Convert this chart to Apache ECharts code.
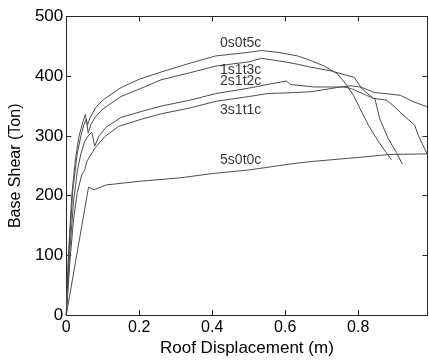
<!DOCTYPE html>
<html>
<head>
<meta charset="utf-8">
<script src="https://cdn.jsdelivr.net/npm/echarts@6/dist/echarts.min.js"></script>
<style>html,body{margin:0;padding:0;background:#fff}#c{width:429px;height:362px}</style>
</head>
<body>
<div id="c"></div>
<script>
// Roof displacement (m) / base shear (Ton) pairs for each model
const s0s0t5c = [[0,0],[0.005,90],[0.015,200],[0.025,260],[0.035,300],[0.045,322],[0.052,336],[0.058,318],[0.065,330],[0.08,347],[0.1,360],[0.15,381],[0.2,395],[0.26,407],[0.34,422],[0.41,434],[0.5,440],[0.535,443],[0.58,440],[0.634,434],[0.671,426],[0.707,417],[0.743,404],[0.766,387],[0.787,368],[0.805,346],[0.828,318],[0.855,291],[0.891,260]];
const s1s1t3c = [[0,0],[0.008,110],[0.018,210],[0.03,270],[0.04,300],[0.048,318],[0.055,328],[0.06,305],[0.068,320],[0.08,332],[0.1,345],[0.15,366],[0.206,380],[0.26,394],[0.34,406],[0.41,417],[0.5,424],[0.535,430],[0.6,424],[0.634,420],[0.671,415],[0.725,409],[0.789,398],[0.807,382],[0.843,373],[0.916,368],[0.952,357],[0.988,349]];
const s2s1t2c = [[0,0],[0.01,110],[0.02,190],[0.03,240],[0.04,270],[0.05,290],[0.06,300],[0.07,306],[0.078,283],[0.09,300],[0.11,315],[0.15,331],[0.206,341],[0.26,350],[0.34,360],[0.41,371],[0.5,380],[0.55,386],[0.603,392],[0.615,386],[0.68,382],[0.761,382],[0.782,379],[0.823,368],[0.846,362],[0.859,329],[0.882,296],[0.905,272],[0.921,253]];
const s3s1t1c = [[0,0],[0.01,90],[0.02,160],[0.03,205],[0.043,236],[0.05,242],[0.057,258],[0.079,280],[0.106,299],[0.143,316],[0.206,328],[0.26,337],[0.34,347],[0.41,358],[0.5,366],[0.553,371],[0.6,372],[0.671,374],[0.752,382],[0.78,384],[0.805,382],[0.841,363],[0.877,360],[0.896,351],[0.923,335],[0.955,318],[0.964,302],[0.977,285],[0.99,269]];
const s5s0t0c = [[0,0],[0.061,214],[0.076,210],[0.11,218],[0.2,224],[0.315,230],[0.4,237],[0.5,243],[0.614,253],[0.669,257],[0.8,264],[0.887,269],[0.99,270]];

const seriesNames = ['0s0t5c','1s1t3c','2s1t2c','3s1t1c','5s0t0c'];
const seriesData = [s0s0t5c, s1s1t3c, s2s1t2c, s3s1t1c, s5s0t0c];
// curve annotations (data coordinates)
const labelX = [0.478, 0.478, 0.478, 0.478, 0.478];
const labelY = [455, 410, 391, 343, 260];

const xTicks = [0, 0.2, 0.4, 0.6, 0.8];
const yTicks = [0, 100, 200, 300, 400, 500];

const FONT = 'Liberation Sans, Arial, sans-serif';
const axisColor = '#262626';
const lineColor = '#4d4d4d';

const chart = echarts.init(document.getElementById('c'), null, {renderer: 'canvas'});

function xAxisBase(pos, showLabel) {
  return {
    type: 'value', position: pos, min: 0, max: 0.99, interval: 0.2,
    axisLine: {show: true, onZero: false, lineStyle: {color: axisColor, width: 1}},
    axisTick: {show: true, inside: true, length: 5, lineStyle: {color: axisColor}},
    splitLine: {show: false},
    axisLabel: {
      show: showLabel, color: '#000', fontFamily: FONT, fontSize: 16, margin: 4,
      showMaxLabel: false,
      formatter: v => xTicks.some(t => Math.abs(t - v) < 1e-9) ? String(+v.toFixed(1)) : ''
    }
  };
}
function yAxisBase(pos, showLabel) {
  return {
    type: 'value', position: pos, min: 0, max: 500, interval: 100,
    axisLine: {show: true, onZero: false, lineStyle: {color: axisColor, width: 1}},
    axisTick: {show: true, inside: true, length: 5, lineStyle: {color: axisColor}},
    splitLine: {show: false},
    axisLabel: {
      show: showLabel, color: '#000', fontFamily: FONT, fontSize: 17, margin: 3,
      formatter: v => yTicks.includes(v) ? String(v) : ''
    }
  };
}

const xb = xAxisBase('bottom', true);
xb.name = 'Roof Displacement (m)';
xb.nameLocation = 'middle';
xb.nameGap = 24;
xb.nameTextStyle = {color: '#000', fontFamily: FONT, fontSize: 17};
const yl = yAxisBase('left', true);
yl.name = 'Base Shear (Ton)';
yl.nameLocation = 'middle';
yl.nameGap = 36;
yl.nameTextStyle = {color: '#000', fontFamily: FONT, fontSize: 16};

const series = seriesData.map((d, i) => ({
  type: 'line', name: seriesNames[i], data: d, showSymbol: false, symbol: 'none',
  xAxisIndex: 0, yAxisIndex: 0, animation: false,
  lineStyle: {color: lineColor, width: 1}, z: 2
}));
series.push({
  type: 'scatter', name: 'labels', xAxisIndex: 0, yAxisIndex: 0, symbolSize: 0, animation: false,
  data: seriesNames.map((n, i) => ({name: n, value: [labelX[i], labelY[i]]})),
  label: {show: true, position: 'inside', formatter: p => p.name, color: '#000', fontFamily: FONT, fontSize: 14},
  z: 3
});

chart.setOption({
  backgroundColor: '#fff',
  animation: false,
  grid: {left: 64, right: 1.5, top: 16.5, bottom: 42.7, containLabel: false},
  xAxis: [xb, xAxisBase('top', false)],
  yAxis: [yl, yAxisBase('right', false)],
  series: series
});
</script>
</body>
</html>
